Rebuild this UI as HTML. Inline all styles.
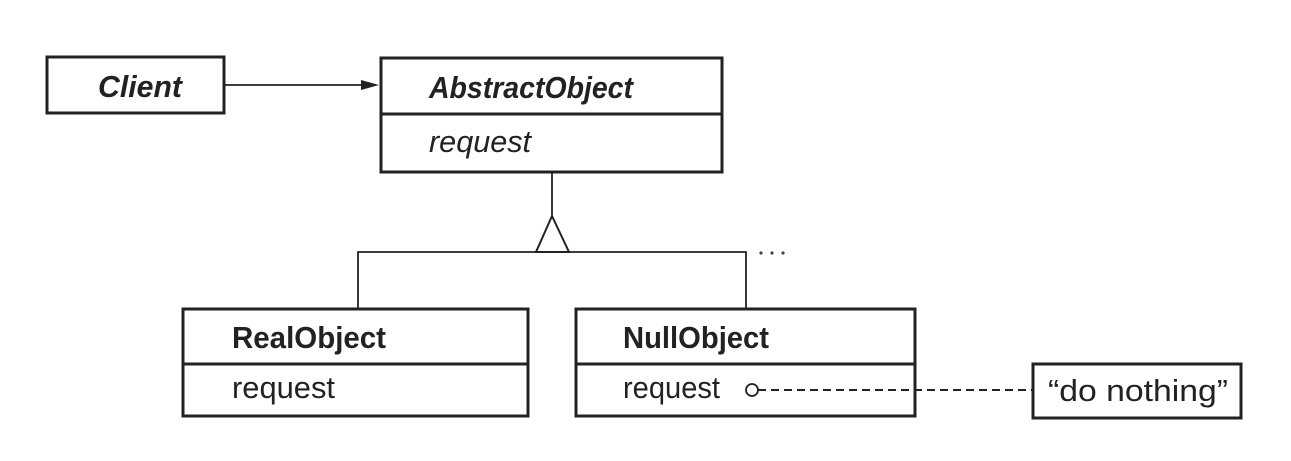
<!DOCTYPE html>
<html><head><meta charset="utf-8"><style>
html,body{margin:0;padding:0;background:#fff;}
svg{display:block;}
text{font-family:"Liberation Sans Narrow","Liberation Sans",sans-serif;fill:#222;}
</style></head><body>
<svg width="1291" height="461" viewBox="0 0 1291 461" xmlns="http://www.w3.org/2000/svg">
<rect width="1291" height="461" fill="#fff"/>
<g fill="none" stroke="#222">
<rect x="47" y="57" width="177" height="56" stroke-width="3"/>
<rect x="381" y="58" width="341" height="114" stroke-width="3"/>
<line x1="381" y1="114" x2="722" y2="114" stroke-width="3"/>
<line x1="225" y1="85" x2="370" y2="85" stroke-width="1.8"/>
<line x1="552" y1="173" x2="552" y2="216" stroke-width="1.8"/>
<polygon points="552,216 536,252 569,252" stroke-width="2"/>
<polyline points="358,308 358,252 746,252 746,308" stroke-width="1.8"/>
<rect x="183" y="309" width="345" height="107" stroke-width="3"/>
<line x1="183" y1="364" x2="528" y2="364" stroke-width="3"/>
<rect x="576" y="309" width="339" height="107" stroke-width="3"/>
<line x1="576" y1="364" x2="915" y2="364" stroke-width="3"/>
<circle cx="752" cy="390" r="6" stroke-width="1.8"/>
<line x1="758" y1="390" x2="1032" y2="390" stroke-width="2" stroke-dasharray="8,5"/>
<rect x="1033" y="364" width="208" height="54" stroke-width="3"/>
</g>
<polygon points="379,85 361,80 361,90" fill="#222"/>
<circle cx="761" cy="253" r="1.6" fill="#444"/><circle cx="772" cy="253" r="1.6" fill="#444"/><circle cx="783" cy="253" r="1.6" fill="#444"/>
<text x="98" y="97" font-size="31" font-weight="bold" font-style="italic" textLength="84" lengthAdjust="spacingAndGlyphs">Client</text>
<text x="429" y="98" font-size="31" font-weight="bold" font-style="italic" textLength="204" lengthAdjust="spacingAndGlyphs">AbstractObject</text>
<text x="429" y="152" font-size="31" font-style="italic" textLength="102" lengthAdjust="spacingAndGlyphs">request</text>
<text x="232" y="348" font-size="31" font-weight="bold" textLength="154" lengthAdjust="spacingAndGlyphs">RealObject</text>
<text x="232" y="398" font-size="31" textLength="103" lengthAdjust="spacingAndGlyphs">request</text>
<text x="623" y="348" font-size="31" font-weight="bold" textLength="146" lengthAdjust="spacingAndGlyphs">NullObject</text>
<text x="623" y="398" font-size="31" textLength="97" lengthAdjust="spacingAndGlyphs">request</text>
<text x="1048" y="401" font-size="31" textLength="180" lengthAdjust="spacingAndGlyphs">“do nothing”</text>
</svg>
</body></html>
